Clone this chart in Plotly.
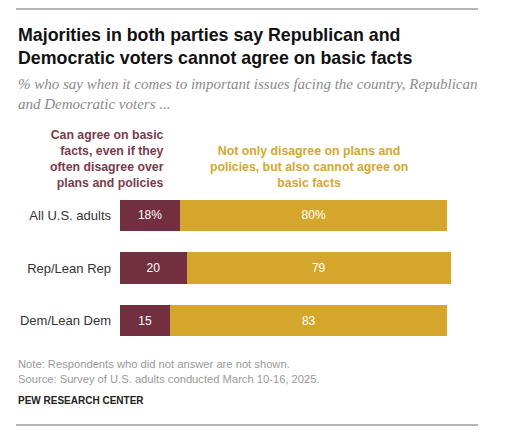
import plotly.graph_objects as go

# --- DATA ---
groups = ["All U.S. adults", "Rep/Lean Rep", "Dem/Lean Dem"]
can_agree = [18, 20, 15]
cannot_agree = [80, 79, 83]

MAROON = "#722F3F"
GOLD = "#D4A72C"

# --- LAYOUT GEOMETRY (pixels, as seen in the page) ---
# the page body adds an 8px offset, so figure coords = page coords - 8
OFF = 8
W_PX, H_PX = 508, 433
L, R, T, B = 120 - OFF, 54 + OFF, 189 - OFF, 86 + OFF
PLOT_W = W_PX - L - R
PLOT_H = H_PX - T - B


def px_x(p):
    return (p - OFF - L) / PLOT_W


def px_y(p):
    return (H_PX - B - (p - OFF)) / PLOT_H


def labels(vals):
    return [f"{v}%" if i == 0 else str(v) for i, v in enumerate(vals)]


fig = go.Figure()
fig.add_trace(go.Bar(
    y=groups, x=can_agree, orientation="h", marker=dict(color=MAROON, line=dict(width=0)),
    text=labels(can_agree), textposition="inside", insidetextanchor="middle",
    textfont=dict(color="white", size=12, family="Liberation Sans"), width=0.59,
    hoverinfo="skip",
))
fig.add_trace(go.Bar(
    y=groups, x=cannot_agree, orientation="h", marker=dict(color=GOLD, line=dict(width=0)),
    text=labels(cannot_agree), textposition="inside", insidetextanchor="middle",
    textfont=dict(color="white", size=12, family="Liberation Sans"), width=0.59,
    hoverinfo="skip",
))

annos = [
    dict(x=px_x(16), y=px_y(23), xanchor="left", yanchor="top", align="left",
         text="<b>Majorities in both parties say Republican and<br>Democratic voters cannot agree on basic facts</b>",
         font=dict(size=17.8, color="#111", family="Liberation Sans")),
    dict(x=px_x(16), y=px_y(74), xanchor="left", yanchor="top", align="left",
         text="<i>% who say when it comes to important issues facing the country, Republican<br>and Democratic voters ...</i>",
         font=dict(size=15, color="#8a8a8a", family="Liberation Serif")),
    dict(x=px_x(166), y=px_y(192), xanchor="right", yanchor="bottom", align="right",
         text="<b>Can agree on basic<br>facts, even if they<br>often disagree over<br>plans and policies</b>",
         font=dict(size=12.3, color="#7a3b4b", family="Liberation Sans")),
    dict(x=px_x(309), y=px_y(192), xanchor="center", yanchor="bottom", align="center",
         text="<b>Not only disagree on plans and<br>policies, but also cannot agree on<br>basic facts</b>",
         font=dict(size=12.3, color=GOLD, family="Liberation Sans")),
    dict(x=px_x(16), y=px_y(356), xanchor="left", yanchor="top", align="left",
         text="Note: Respondents who did not answer are not shown.<br>Source: Survey of U.S. adults conducted March 10-16, 2025.",
         font=dict(size=11.2, color="#999", family="Liberation Sans")),
    dict(x=px_x(16), y=px_y(393), xanchor="left", yanchor="top", align="left",
         text="<b>PEW RESEARCH CENTER</b>",
         font=dict(size=10, color="#222", family="Liberation Sans")),
]
for a in annos:
    a.update(xref="paper", yref="paper", showarrow=False)

line_style = dict(color="#b5b5b5", width=2)
shapes = [
    dict(type="line", xref="paper", yref="paper", x0=px_x(16), x1=px_x(478),
         y0=px_y(9), y1=px_y(9), line=line_style),
    dict(type="line", xref="paper", yref="paper", x0=px_x(16), x1=px_x(478),
         y0=px_y(425), y1=px_y(425), line=line_style),
    dict(type="line", xref="paper", yref="paper", x0=px_x(1), x1=px_x(1),
         y0=px_y(0), y1=px_y(433), line=dict(color="#e2e2e2", width=1.5)),
]

fig.update_layout(
    width=W_PX, height=H_PX, barmode="stack", showlegend=False,
    margin=dict(l=L, r=R, t=T, b=B, autoexpand=False),
    paper_bgcolor="white", plot_bgcolor="white",
    xaxis=dict(range=[0, 100], visible=False, fixedrange=True),
    yaxis=dict(autorange="reversed", showgrid=False, zeroline=False, showline=False,
               ticks="", ticklabelstandoff=8, automargin=False,
               tickfont=dict(size=13, color="#333", family="Liberation Sans")),
    annotations=annos, shapes=shapes,
)

fig.write_html("out.html", config=dict(displayModeBar=False))
